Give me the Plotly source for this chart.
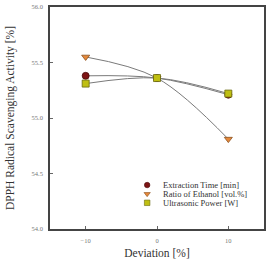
import plotly.graph_objects as go

deviation = [-10, 0, 10]
extraction_time = [55.38, 55.36, 55.21]
ratio_ethanol = [55.55, 55.36, 54.81]
ultrasonic_power = [55.31, 55.36, 55.22]
series_names = ["Extraction Time [min]", "Ratio of Ethanol [vol.%]", "Ultrasonic Power [W]"]
x_ticks = [-10, 0, 10]
y_ticks = [54.0, 54.5, 55.0, 55.5, 56.0]

symbols = ["circle", "triangle-down", "square"]
colors = ["#7d1414", "#e5883a", "#bfbf12"]
edges = ["#4a0a0a", "#8a5020", "#6a6a10"]
values = [extraction_time, ratio_ethanol, ultrasonic_power]

font = "Liberation Serif, Times New Roman, serif"
fig = go.Figure()
for name, ys, sym, col, ed in zip(series_names, values, symbols, colors, edges):
    fig.add_trace(go.Scatter(
        x=deviation, y=ys, name=name, mode="lines+markers", showlegend=False,
        line=dict(color="#7a7a7a", width=1, shape="spline"),
        marker=dict(symbol=sym, color=col, size=7, line=dict(color=ed, width=0.8)),
    ))

# manual compact legend (overlay axes in fraction units)
leg_x = 0.454
leg_text_x = 0.52
leg_rows = [0.198, 0.158, 0.118]
for name, sym, col, ed, ly in zip(series_names, symbols, colors, edges, leg_rows):
    fig.add_trace(go.Scatter(
        x=[leg_x], y=[ly], mode="markers", showlegend=False, xaxis="x2", yaxis="y2",
        marker=dict(symbol=sym, color=col, size=5.5, line=dict(color=ed, width=0.6)),
        hoverinfo="skip",
    ))
    fig.add_annotation(x=leg_text_x, y=ly, xref="paper", yref="paper", text=name,
                       showarrow=False, xanchor="left", yanchor="middle",
                       font=dict(size=8.5, family=font, color="#333333"))

fig.update_layout(
    width=269, height=261,
    margin=dict(l=50, r=3, t=7, b=32),
    paper_bgcolor="white", plot_bgcolor="white",
    font=dict(family=font, color="#333333"),
    showlegend=False,
    xaxis=dict(range=[-15, 15], tickvals=x_ticks, ticks="inside", ticklen=3, tickcolor="#666666",
               tickfont=dict(size=6.5, color="#777777", family=font), showgrid=False, zeroline=False,
               ticklabelstandoff=4,
               showline=True, linecolor="#444444", linewidth=1.5, mirror=True,
               title=dict(text="Deviation [%]", font=dict(size=11.5, color="#333333"), standoff=6)),
    yaxis=dict(range=[54.0, 56.0], tickvals=y_ticks, tickformat=".1f", ticks="inside", ticklen=3,
               tickcolor="#666666",
               tickfont=dict(size=6.5, color="#777777", family=font), showgrid=False, zeroline=False,
               ticklabelstandoff=4,
               showline=True, linecolor="#444444", linewidth=1.5, mirror=True,
               title=dict(text="DPPH Radical Scavenging Activity [%]", font=dict(size=11.5, color="#333333"), standoff=15)),
    xaxis2=dict(range=[0, 1], overlaying="x", visible=False, fixedrange=True),
    yaxis2=dict(range=[0, 1], overlaying="y", visible=False, fixedrange=True),
)
fig.write_html("out.html")
